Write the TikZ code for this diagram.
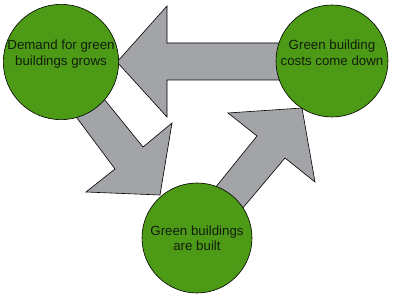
\documentclass[tikz,border=0pt]{standalone}
\usepackage{fontspec}
\setmainfont{Liberation Sans}
\definecolor{leaf}{RGB}{76,154,22}
\definecolor{arrowgray}{RGB}{162,164,167}
\definecolor{ink}{RGB}{20,30,15}
\begin{document}
\begin{tikzpicture}[x=1pt,y=-1pt,
  bubble/.style={circle,draw=black,line width=0.6pt,fill=leaf,minimum size=112pt,inner sep=0pt,
    align=center,text=ink,font=\fontsize{13.3}{15.5}\selectfont},
  bigarrow/.style={draw=black,line width=0.6pt,fill=arrowgray,line join=miter}]
\useasboundingbox (0,0) rectangle (400,304);
% arrows (behind circles)
\coordinate (l1) at (117,62);
\draw[bigarrow] (l1) -- (167,6) -- (167,43) -- (280,43) -- (280,80) -- (167,80) -- (167,117) -- cycle;
\draw[bigarrow] (74,114) -- (100,94) -- (143,147) -- (172,123) -- (160,195) -- (86,192) -- (115,169) -- cycle;
\draw[bigarrow] (215,188) -- (257,136) -- (228,113) -- (302,108) -- (315,182) -- (285,158) -- (242,209) -- cycle;
% circles
\node[bubble] (demand) at (61,62) {Demand for green\\buildings grows\\[-2pt]\strut};
\node[bubble] (costs) at (332,61) {Green building\\costs come down\\[-4pt]\strut};
\node[bubble,minimum size=110pt] (built) at (197,238) {Green buildings\\are built};
\end{tikzpicture}
\end{document}
